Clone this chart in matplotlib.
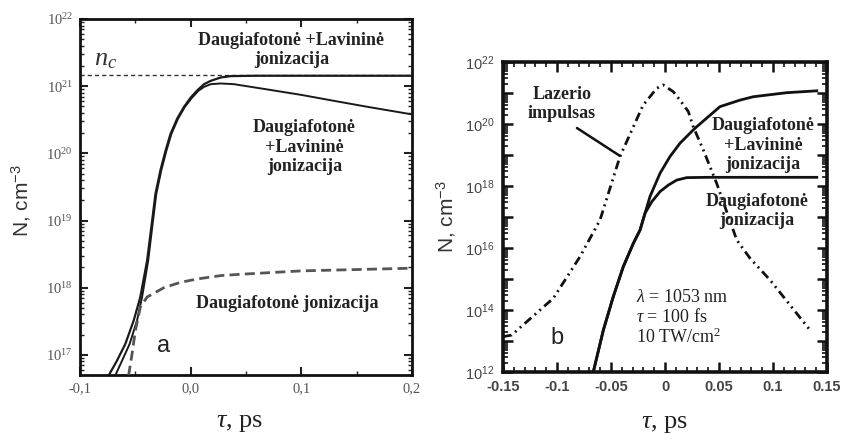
import numpy as np
import matplotlib
matplotlib.use("Agg")
import matplotlib.pyplot as plt
from matplotlib.ticker import FixedLocator, MultipleLocator, LogLocator, FuncFormatter, NullFormatter

plt.rcParams["mathtext.fontset"] = "custom"
plt.rcParams["mathtext.rm"] = "Liberation Serif"
plt.rcParams["mathtext.it"] = "Liberation Serif:italic"
plt.rcParams["mathtext.bf"] = "Liberation Serif:bold"
plt.rcParams["mathtext.sf"] = "Liberation Sans"

SERIF = "Liberation Serif"
SANS = "Liberation Sans"

# ---------------- panel (a): electron density vs time ----------------
# avalanche + multiphoton, curve saturating at n_c   (t in ps, log10 N in cm^-3)
a_sat_t = [-0.0742, -0.0667, -0.0591, -0.0515, -0.0455, -0.0394, -0.0348, -0.0318,
           -0.0273, -0.0227, -0.0182, -0.0121, -0.0061, 0.0, 0.0061, 0.0121, 0.0182,
           0.0273, 0.0364, 0.06, 0.1, 0.15, 0.2]
a_sat_logN = [16.69, 16.91, 17.16, 17.51, 17.86, 18.40, 19.0, 19.40,
              19.75, 20.04, 20.29, 20.52, 20.69, 20.83, 20.94, 21.03, 21.08,
              21.13, 21.15, 21.155, 21.155, 21.155, 21.155]
# avalanche + multiphoton, curve that decays after the peak
a_dec_t = [-0.0682, -0.0621, -0.0552, -0.0485, -0.0439, -0.0384, -0.0340, -0.0310,
           -0.0265, -0.0219, -0.0174, -0.0113, -0.0053, 0.0008, 0.0069, 0.0121,
           0.0182, 0.0273, 0.039, 0.0697, 0.1, 0.130, 0.1606, 0.2]
a_dec_logN = [16.69, 16.91, 17.16, 17.51, 17.86, 18.40, 19.0, 19.40,
              19.75, 20.04, 20.29, 20.52, 20.69, 20.82, 20.93, 20.99,
              21.03, 21.04, 21.03, 20.95, 20.87, 20.78, 20.69, 20.58]
# multiphoton ionization only (dashed)
a_mpi_t = [-0.0561, -0.053, -0.050, -0.0455, -0.0394, -0.0242, -0.0091, 0.0061,
           0.0273, 0.0455, 0.1, 0.15, 0.2]
a_mpi_logN = [16.69, 17.01, 17.36, 17.71, 17.86, 18.0, 18.08, 18.13,
              18.18, 18.20, 18.25, 18.27, 18.29]
n_c_logN = 21.16

a_xticks = [-0.1, 0.0, 0.1, 0.2]
a_xticklabels = ["-0,1", "0,0", "0,1", "0,2"]
a_ydecades = [17, 18, 19, 20, 21, 22]

# ---------------- panel (b): 1053 nm, 100 fs, 10 TW/cm^2 ----------------
b_aval_t = [-0.0664, -0.0571, -0.0479, -0.0386, -0.0293, -0.0231, -0.0139, -0.0046,
            0.0046, 0.0139, 0.0262, 0.0293, 0.0509, 0.0694, 0.0818, 0.1127, 0.1405]
b_aval_logN = [12.0, 13.35, 14.43, 15.40, 16.15, 16.58, 17.66, 18.41,
               18.95, 19.38, 19.81, 19.91, 20.56, 20.77, 20.88, 21.01, 21.07]
b_mpi_t = [-0.0664, -0.0571, -0.0479, -0.0386, -0.0293, -0.0231, -0.0185, -0.0123,
           -0.0046, 0.0031, 0.0108, 0.0201, 0.04, 0.08, 0.1405]
b_mpi_logN = [12.0, 13.35, 14.43, 15.40, 16.15, 16.58, 17.12, 17.49,
              17.82, 18.03, 18.19, 18.27, 18.28, 18.28, 18.28]
b_pulse_t = [-0.15, -0.142, -0.1034, -0.0787, -0.0602, -0.0417, -0.0293, -0.0204,
             -0.0139, -0.0077, -0.0016, 0.0077, 0.0139, 0.0216, 0.0262, 0.0355,
             0.0478, 0.0664, 0.0787, 0.0972, 0.1343]
b_pulse_logN = [13.14, 13.19, 14.38, 15.72, 16.90, 18.95, 19.91, 20.6,
                20.88, 21.15, 21.26, 21.04, 20.77, 20.4, 19.91, 19.16,
                18.09, 16.26, 15.67, 14.97, 13.35]

b_xticks = [-0.15, -0.1, -0.05, 0.0, 0.05, 0.1, 0.15]
b_xticklabels = ["-0.15", "-0.1", "-0.05", "0", "0.05", "0.1", "0.15"]
b_ylabeled = [12, 14, 16, 18, 20, 22]


def pw(v):
    return 10.0 ** np.asarray(v, dtype=float)


fig = plt.figure(figsize=(8.43, 4.40), dpi=100)
fig.patch.set_facecolor("white")

# ================= panel (a) =================
ax1 = fig.add_axes([80 / 843, 1 - 375 / 440, 332 / 843, 356 / 440])
ax1.set_yscale("log")
ax1.set_xlim(-0.1, 0.2)
ax1.set_ylim(10 ** 16.7, 1e22)

ax1.axhline(10 ** n_c_logN, color="#333333", lw=1.0, ls=(0, (3.0, 2.2)), zorder=2)
ax1.plot(a_dec_t, pw(a_dec_logN), color="#1a1a1a", lw=1.4, zorder=3)
ax1.plot(a_sat_t, pw(a_sat_logN), color="#1a1a1a", lw=1.6, zorder=3)
ax1.plot(a_mpi_t, pw(a_mpi_logN), color="#555555", lw=2.0, ls=(0, (3.6, 1.9)), zorder=3)

ax1.xaxis.set_major_locator(FixedLocator(a_xticks))
ax1.xaxis.set_minor_locator(MultipleLocator(0.05))
ax1.set_xticklabels(a_xticklabels)
ax1.yaxis.set_major_locator(FixedLocator([10.0 ** d for d in a_ydecades]))
ax1.yaxis.set_minor_locator(LogLocator(base=10, subs=np.arange(2, 10), numticks=50))
ax1.yaxis.set_major_formatter(FuncFormatter(lambda v, p: r"$10^{%d}$" % round(np.log10(v))))
ax1.yaxis.set_minor_formatter(NullFormatter())
ax1.tick_params(which="both", direction="in", top=True, right=True, colors="#222222",
                labelcolor="#555555")
ax1.tick_params(which="major", length=6, width=1.5, labelsize=10.5, pad=5)
ax1.tick_params(which="minor", length=3, width=1.0)
for lab in ax1.get_xticklabels() + ax1.get_yticklabels():
    lab.set_fontfamily(SERIF)
for s in ax1.spines.values():
    s.set_linewidth(2.0)
    s.set_color("#111111")

ax1.set_ylabel(r"N, cm$^{\mathsf{-3}}$", fontfamily=SANS, fontsize=15, color="#333333")
ax1.yaxis.set_label_coords(-0.142, 0.49)
ax1.set_xlabel(r"$\tau$, ps", fontfamily=SERIF, fontsize=19, color="#222222")
ax1.xaxis.set_label_coords(0.482, -0.105)

bold = dict(fontfamily=SERIF, fontweight="bold", fontsize=13, color="#222222",
            ha="center", va="center", linespacing=1.2)
ax1.text(0.0909, 10 ** 21.54, "Daugiafotonė +Lavininė\njonizacija", **bold)
ax1.text(0.1027, 10 ** 20.09, "Daugiafotonė\n+Lavininė\njonizacija", **bold)
ax1.text(0.0873, 10 ** 17.76, "Daugiafotonė jonizacija", **bold)
ax1.text(-0.0875, 10 ** 21.31, r"$n_c$", fontsize=19, color="#333333", ha="left",
         va="baseline")
ax1.text(-0.0245, 10 ** 17.13, "a", fontfamily=SANS, fontsize=17, color="#222222",
         ha="center", va="center")

# ================= panel (b) =================
ax2 = fig.add_axes([503 / 843, 1 - 372 / 440, 324 / 843, 310 / 440])
ax2.set_yscale("log")
ax2.set_xlim(-0.15, 0.15)
ax2.set_ylim(1e12, 1e22)

ax2.plot(b_mpi_t, pw(b_mpi_logN), color="#111111", lw=2.0, zorder=3)
ax2.plot(b_aval_t, pw(b_aval_logN), color="#111111", lw=2.0, zorder=3)
ax2.plot(b_pulse_t, pw(b_pulse_logN), color="#111111", lw=2.0,
         ls=(0, (3.2, 1.6, 0.7, 1.6, 0.7, 1.6)), zorder=3)

ax2.xaxis.set_major_locator(FixedLocator(b_xticks))
ax2.xaxis.set_minor_locator(MultipleLocator(0.01))
ax2.set_xticklabels(b_xticklabels)
ax2.yaxis.set_major_locator(LogLocator(base=10, numticks=20))
ax2.yaxis.set_minor_locator(LogLocator(base=10, subs=np.arange(2, 10), numticks=50))


def b_ylab(v, p):
    d = int(round(np.log10(v)))
    return r"$\mathsf{10^{%d}}$" % d if d in b_ylabeled else ""


ax2.yaxis.set_major_formatter(FuncFormatter(b_ylab))
ax2.yaxis.set_minor_formatter(NullFormatter())
ax2.tick_params(which="both", direction="in", top=True, right=True, colors="#111111",
                labelcolor="#444444")
ax2.tick_params(which="major", length=7, width=1.8, labelsize=10.5, pad=6)
ax2.tick_params(which="minor", length=3.5, width=1.2)
for lab in ax2.get_xticklabels():
    lab.set_fontfamily(SANS)
    lab.set_fontweight("bold")
for s in ax2.spines.values():
    s.set_linewidth(2.6)
    s.set_color("#111111")

ax2.set_ylabel(r"N, cm$^{\mathsf{-3}}$", fontfamily=SANS, fontsize=15, color="#333333")
ax2.yaxis.set_label_coords(-0.139, 0.5)
ax2.set_xlabel(r"$\tau$, ps", fontfamily=SERIF, fontsize=19, color="#222222")
ax2.xaxis.set_label_coords(0.5, -0.132)

ax2.text(-0.0954, 10 ** 20.65, "Lazerio\nimpulsas", **bold)
ax2.annotate("", xy=(-0.0417, 10 ** 18.97), xytext=(-0.0815, 10 ** 19.87),
             arrowprops=dict(arrowstyle="-", lw=1.8, color="#111111",
                             shrinkA=0, shrinkB=0))
ax2.text(0.0907, 10 ** 19.32, "Daugiafotonė\n+Lavininė\njonizacija", **bold)
ax2.text(0.0852, 10 ** 17.19, "Daugiafotonė\njonizacija", **bold)
ax2.text(-0.027, 10 ** 13.74,
         "$\\lambda$ = 1053 nm\n$\\tau$ = 100 fs\n10 TW/cm$^2$",
         fontfamily=SERIF, fontsize=13, color="#222222", ha="left", va="center",
         linespacing=1.15)
ax2.text(-0.1, 10 ** 13.1, "b", fontfamily=SANS, fontsize=17, color="#222222",
         ha="center", va="center")

fig.savefig("out.png", dpi=100, facecolor="white")
